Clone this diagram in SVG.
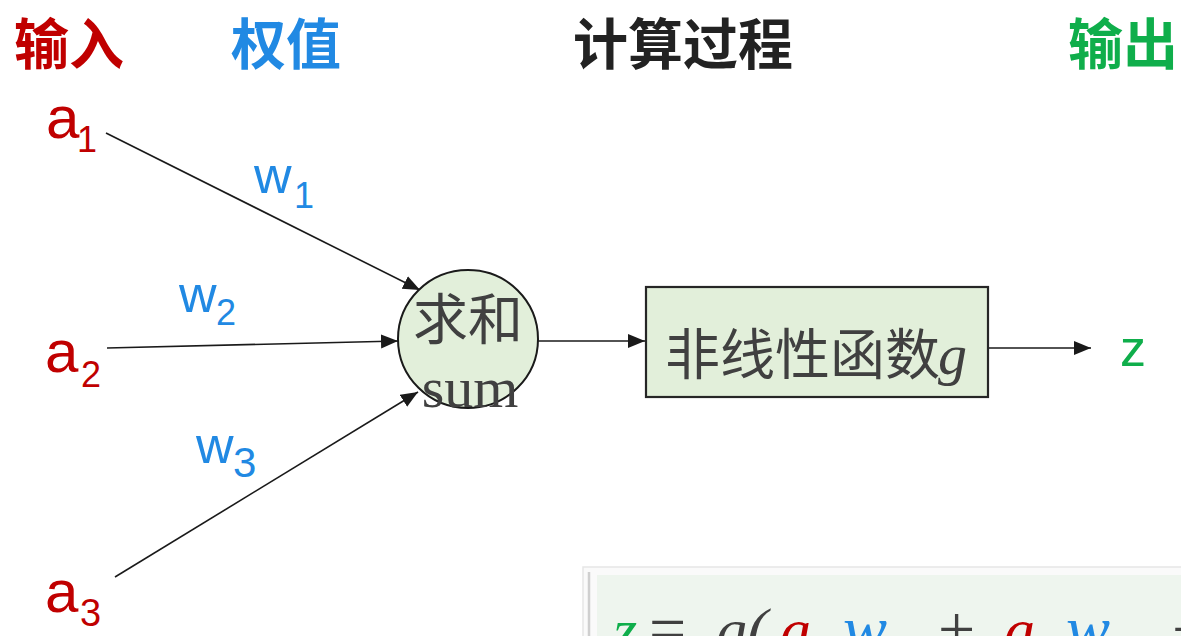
<svg xmlns="http://www.w3.org/2000/svg" width="1181" height="636" viewBox="0 0 1181 636">
<defs>
<marker id="arr" markerUnits="userSpaceOnUse" markerWidth="18" markerHeight="16" refX="17" refY="7" orient="auto">
<path d="M0,0 L17,7 L0,14 z" fill="#1a1a1a"/>
</marker>
<style>
.title{font-family:"Noto Sans CJK SC","Microsoft YaHei",sans-serif;font-weight:700;font-size:55px}
.lat{font-family:"Liberation Sans",Arial,sans-serif}
.cjk{font-family:"Noto Sans CJK SC",sans-serif;fill:#404040}
.ser{font-family:"Liberation Serif","Times New Roman",serif}
.red{fill:#c00000}
.blue{fill:#2189e3}
.green{fill:#0fae4b}
.edge{stroke:#1a1a1a;stroke-width:1.6;fill:none;marker-end:url(#arr)}
.math{font-family:"Liberation Serif","Times New Roman",serif;font-size:62px}
</style>
</defs>
<rect width="1181" height="636" fill="#ffffff"/>

<g id="titles">
<text class="title red" x="14" y="64">输入</text>
<text class="title blue" x="231" y="64">权值</text>
<text class="title" x="573" y="64" fill="#222222">计算过程</text>
<text class="title green" x="1068" y="64">输出</text>
</g>

<g id="connectors">
<line class="edge" x1="106" y1="133" x2="420" y2="290"/>
<line class="edge" x1="107" y1="348" x2="398" y2="341"/>
<line class="edge" x1="115" y1="577" x2="418" y2="392"/>
<line class="edge" x1="538" y1="341" x2="645" y2="341"/>
<line class="edge" x1="988" y1="348" x2="1091" y2="348"/>
</g>

<g id="input-a1">
<text class="lat red" x="46" y="138" font-size="60">a</text>
<text class="lat red" x="77" y="152" font-size="36">1</text>
</g>
<g id="input-a2">
<text class="lat red" x="45" y="372" font-size="60">a</text>
<text class="lat red" x="81" y="387" font-size="36">2</text>
</g>
<g id="input-a3">
<text class="lat red" x="45" y="612" font-size="60">a</text>
<text class="lat red" x="80" y="626" font-size="38">3</text>
</g>

<g id="weight-w1">
<text class="lat blue" x="254" y="193" font-size="52">w</text>
<text class="lat blue" x="294" y="208" font-size="36">1</text>
</g>
<g id="weight-w2">
<text class="lat blue" x="179" y="312" font-size="52">w</text>
<text class="lat blue" x="216" y="325" font-size="36">2</text>
</g>
<g id="weight-w3">
<text class="lat blue" x="196" y="463" font-size="52">w</text>
<text class="lat blue" x="233" y="477" font-size="42">3</text>
</g>

<g id="sum-node">
<ellipse cx="468" cy="339" rx="70" ry="69" fill="#e2efda" stroke="#1a1a1a" stroke-width="2"/>
<text class="cjk" x="468" y="339" font-size="55" text-anchor="middle">求和</text>
<text class="ser" x="470" y="407" font-size="58" fill="#404040" text-anchor="middle">sum</text>
</g>

<g id="nonlinear-node">
<rect x="646" y="287" width="342" height="110" fill="#e2efda" stroke="#262626" stroke-width="2.2"/>
<text class="cjk" x="665" y="374" font-size="55">非线性函数</text>
<text class="ser" x="938" y="374" font-size="58" font-style="italic" fill="#404040">g</text>
</g>

<g id="output-z">
<text class="lat green" x="1120" y="366" font-size="52">z</text>
</g>

<g id="formula">
<rect x="583" y="567" width="610" height="80" fill="#fafafa" stroke="#e6e6e6" stroke-width="1.5"/>
<line x1="589" y1="572" x2="589" y2="640" stroke="#cfcfcf" stroke-width="2.5"/>
<rect x="597" y="575" width="600" height="70" fill="#eef5ee"/>
<text class="math" y="651"><tspan class="green" x="613" font-style="italic">z</tspan><tspan x="649" fill="#404040" font-size="66">=</tspan><tspan x="716" fill="#404040" font-style="italic">g(</tspan><tspan class="red" x="780" font-style="italic">a</tspan><tspan class="blue" x="843" font-style="italic" font-size="66">w</tspan><tspan x="938" fill="#404040" font-size="66">+</tspan><tspan class="red" x="1004" font-style="italic">a</tspan><tspan class="blue" x="1066" font-style="italic" font-size="66">w</tspan><tspan x="1172" fill="#404040" font-size="66">+</tspan></text>
</g>
</svg>
